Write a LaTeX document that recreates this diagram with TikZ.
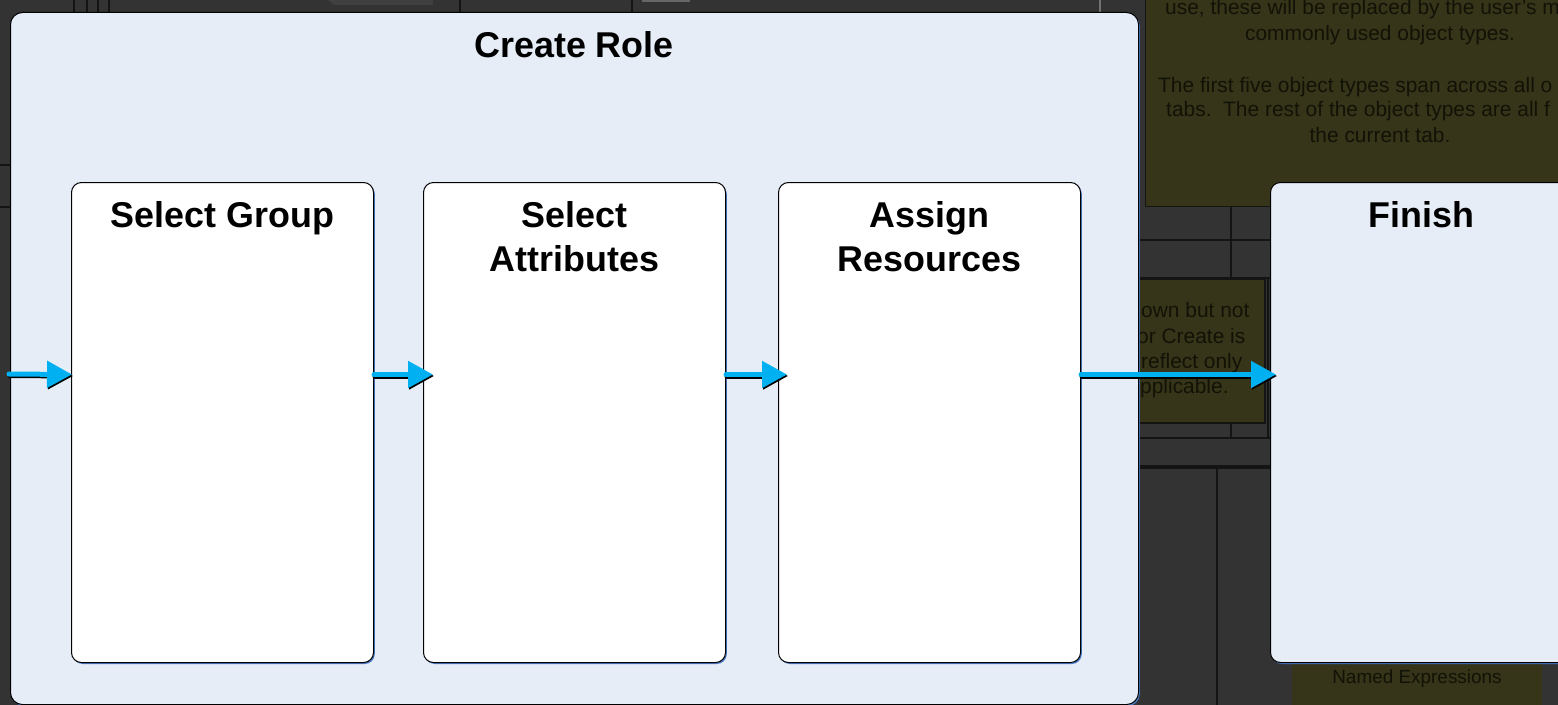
\documentclass[tikz,border=0pt]{standalone}
\usepackage{fontspec}
\setmainfont{Liberation Sans}
\usetikzlibrary{arrows.meta,shadows}
\definecolor{bgdark}{HTML}{333333}
\definecolor{olivefill}{HTML}{363419}
\definecolor{olivetext}{HTML}{121206}
\definecolor{panel}{HTML}{E6EDF7}
\definecolor{shadowblue}{HTML}{4A7BC4}
\definecolor{flow}{HTML}{00B0F0}
\definecolor{gridline}{HTML}{141414}
\tikzset{
  panelbox/.style={draw=black, line width=1bp, fill=panel, rounded corners=12bp,
    inner sep=0pt, anchor=north west,
    drop shadow={shadow xshift=1.3bp, shadow yshift=-1.5bp, fill=shadowblue, opacity=1}},
  stepbox/.style={draw=black, line width=1bp, fill=white, rounded corners=10bp,
    inner sep=0pt, anchor=north west, minimum width=302bp, minimum height=480bp,
    drop shadow={shadow xshift=1.3bp, shadow yshift=-1.5bp, fill=shadowblue, opacity=1}},
  boxtitle/.style={font=\bfseries\fontsize{36}{44}\selectfont, align=center, inner sep=0pt, anchor=north},
  bgtext/.style={font=\fontsize{21}{25}\selectfont, text=olivetext, inner sep=0pt},
  flowline/.style={line width=5bp, line cap=round, -{Triangle[length=25bp,width=26bp]}},
  gline/.style={draw=gridline, line width=2bp},
}
\newcommand\flowarrow[2]{%
  \draw[flowline, black, transform canvas={xshift=1bp,yshift=-1.5bp}] #1 -- #2;
  \draw[flowline, flow] #1 -- #2;}
\begin{document}
\begin{tikzpicture}[x=1bp,y=-1bp]
\useasboundingbox (0,0) rectangle (1558,705);
\clip (0,0) rectangle (1558,705);
\fill[bgdark] (0,0) rectangle (1558,705);
% ---- background fragments ----
% top strip
\foreach \xx in {74,87,98,109} \draw[gridline, line width=1.5bp] (\xx,0) -- (\xx,12);
\fill[black!75] (328,0) -- (433,0) -- (433,5) -- (334,5) -- cycle;
\draw[gridline, line width=1.5bp] (460,0) -- (460,12);
\draw[gridline, line width=1.5bp] (632,0) -- (632,12);
\fill[black!60] (642,0) rectangle (690,2);
\draw[black!55, line width=1.5bp] (1100,0) -- (1100,12);
% left strip
\draw[gridline, line width=1.5bp] (0,165) -- (10,165);
\draw[gridline, line width=1.5bp] (0,207) -- (10,207);
\node[bgtext, text=black!80, anchor=base west] (bgF) at (1,193) {F};
% top right olive note
\fill[olivefill] (1145,-2) rectangle (1560,206);
\draw[gridline] (1145,-2) -- (1145,206) -- (1560,206);
\node[bgtext, anchor=base west] (n1) at (1165,15) {use, these will be replaced by the user's m};
\node[bgtext, anchor=base] (n2) at (1380,41) {commonly used object types.};
\node[bgtext, anchor=base west] (n3) at (1158,93) {The first five object types span across all o};
\node[bgtext, anchor=base west] (n4) at (1166,117) {tabs.\ \ The rest of the object types are all f};
\node[bgtext, anchor=base] (n5) at (1380,143) {the current tab.};
% grid between frame and Finish
\draw[gline] (1138,240) -- (1272,240);
\draw[gline] (1138,278) -- (1272,278);
\draw[gline] (1231,206) -- (1231,278);
\fill[olivefill] (1138,279) rectangle (1265,423);
\draw[gridline, line width=1.5bp] (1138,279) rectangle (1265,423);
\draw[gridline, line width=1.5bp] (1268,279) -- (1268,438);
\node[bgtext, anchor=base west] (m1) at (1141,317) {own but not};
\node[bgtext, anchor=base west] (m2) at (1137,343) {or Create is};
\node[bgtext, anchor=base west] (m3) at (1141,368) {reflect only};
\node[bgtext, anchor=base west] (m4) at (1140,393) {pplicable.};
\draw[gline] (1231,423) -- (1231,438);
\draw[gline] (1138,438) -- (1272,438);
\draw[gridline, line width=4bp] (1138,467) -- (1272,467);
\draw[gline] (1217,469) -- (1217,705);
% named expressions
\fill[olivefill] (1292,664) rectangle (1542,707);
\node[bgtext, anchor=base, font=\fontsize{19}{23}\selectfont] (ne) at (1417,683) {Named Expressions};
% ---- main diagram ----
\node[panelbox, minimum width=1128bp, minimum height=692bp] (frame) at (10,12) {};
\node[boxtitle] (frametitle) at (574,31) {Create Role};
\node[stepbox] (g) at (71,182) {};
\node[stepbox] (a) at (423,182) {};
\node[stepbox] (r) at (778,182) {};
\node[stepbox, fill=panel] (f) at (1270,182) {};
\node[boxtitle] (gt) at ([yshift=-19bp]g.north) {Select Group};
\node[boxtitle] (at) at ([yshift=-19bp]a.north) {Select\\Attributes};
\node[boxtitle] (rt) at ([yshift=-19bp]r.north) {Assign\\Resources};
\node[boxtitle] (ft) at ([yshift=-19bp]f.north) {Finish};
\coordinate (src) at (9,374);
\flowarrow{(src)}{([xshift=1bp,yshift=48bp]g.west)}
\flowarrow{([yshift=48bp]g.east)}{([xshift=10bp,yshift=48bp]a.west)}
\flowarrow{([yshift=48bp]a.east)}{([xshift=9bp,yshift=48bp]r.west)}
\flowarrow{([yshift=48bp]r.east)}{([xshift=6bp,yshift=48bp]f.west)}
\end{tikzpicture}
\end{document}
